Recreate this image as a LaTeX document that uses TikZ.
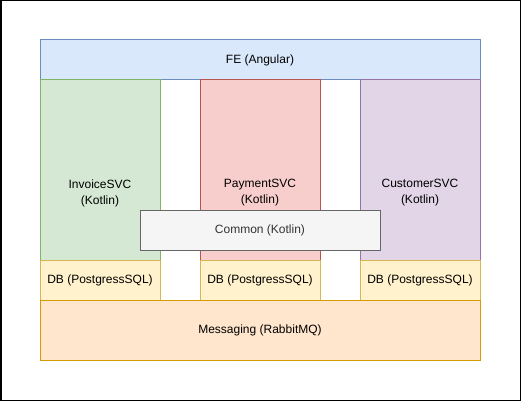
\documentclass[tikz,border=0pt]{standalone}
\usepackage{fontspec}
\setmainfont{Liberation Sans}
\definecolor{feF}{HTML}{DAE8FC}\definecolor{feD}{HTML}{6C8EBF}
\definecolor{gF}{HTML}{D5E8D4}\definecolor{gD}{HTML}{82B366}
\definecolor{rF}{HTML}{F8CECC}\definecolor{rD}{HTML}{B85450}
\definecolor{pF}{HTML}{E1D5E7}\definecolor{pD}{HTML}{9673A6}
\definecolor{yF}{HTML}{FFF2CC}\definecolor{yD}{HTML}{D6B656}
\definecolor{oF}{HTML}{FFE6CC}\definecolor{oD}{HTML}{D79B00}
\definecolor{cF}{HTML}{F5F5F5}\definecolor{cD}{HTML}{666666}\definecolor{cT}{HTML}{333333}
\begin{document}
\begin{tikzpicture}[x=1pt,y=-1pt,
  box/.style={draw, line width=1pt, inner sep=0pt, align=center, font=\fontsize{12}{16}\selectfont},
  svc/.style={box, minimum width=120pt, minimum height=220pt, text depth=0pt},
]
\useasboundingbox (0,0) rectangle (521,401);
\draw[line width=1.5pt] (0.75,0.75) rectangle (520.25,400.25);
\node[box, fill=feF, draw=feD, minimum width=440pt, minimum height=40pt] (fe) at (260,60) {FE (Angular)};
\node[svc, fill=gF, draw=gD] (inv) at (100,190) {};
\node[svc, fill=rF, draw=rD] (pay) at (260,190) {};
\node[svc, fill=pF, draw=pD] (cus) at (420,190) {};
\node[align=center, font=\fontsize{12}{16}\selectfont] (invt) at (100,193) {InvoiceSVC\\(Kotlin)};
\node[align=center, font=\fontsize{12}{16}\selectfont] (payt) at (260,193) {PaymentSVC\\(Kotlin)};
\node[align=center, font=\fontsize{12}{16}\selectfont] (cust) at (420,193) {CustomerSVC\\(Kotlin)};
\node[box, fill=yF, draw=yD, minimum width=120pt, minimum height=40pt] (db1) at (100,280) {DB (PostgressSQL)};
\node[box, fill=yF, draw=yD, minimum width=120pt, minimum height=40pt] (db2) at (260,280) {DB (PostgressSQL)};
\node[box, fill=yF, draw=yD, minimum width=120pt, minimum height=40pt] (db3) at (420,280) {DB (PostgressSQL)};
\node[box, fill=oF, draw=oD, minimum width=440pt, minimum height=60pt] (msg) at (260,330) {Messaging (RabbitMQ)};
\node[box, fill=cF, draw=cD, text=cT, minimum width=240pt, minimum height=40pt] (com) at (260,230) {Common (Kotlin)};
\end{tikzpicture}
\end{document}
